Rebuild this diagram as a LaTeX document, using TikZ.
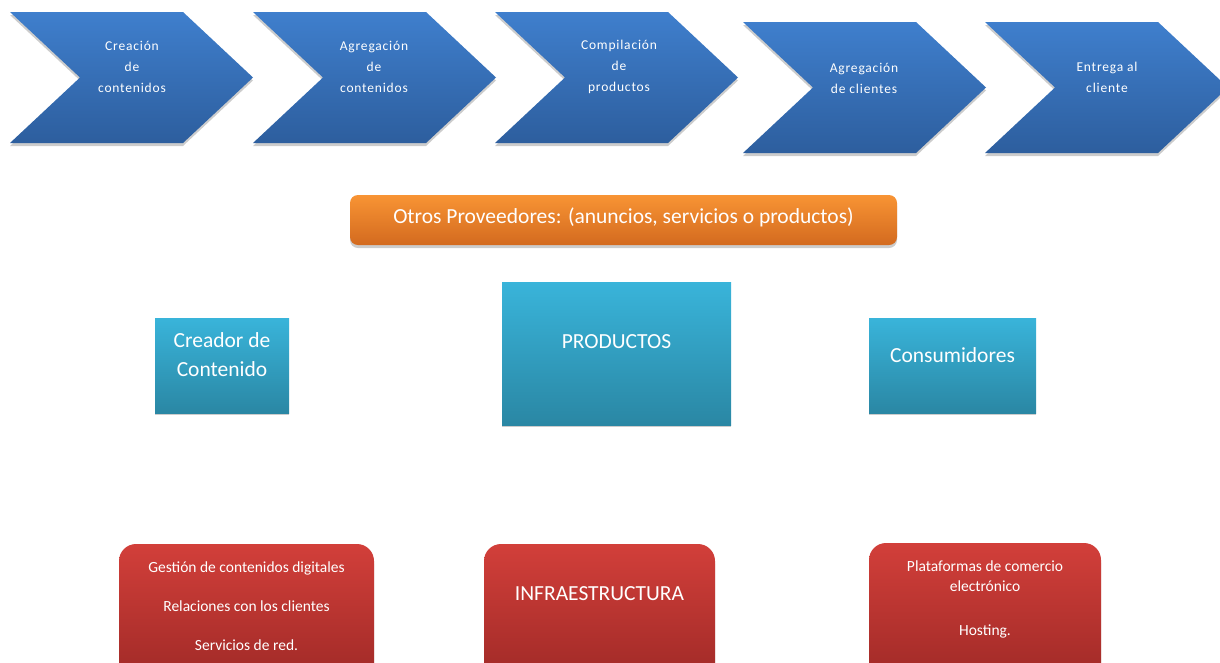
\documentclass[tikz,border=0pt]{standalone}
\usepackage{fontspec}
\setmainfont{Carlito}
\usetikzlibrary{shadows}
\definecolor{chevtop}{HTML}{3F7FCD}
\definecolor{chevbot}{HTML}{2D5E9E}
\definecolor{orgtop}{HTML}{F89434}
\definecolor{orgbot}{HTML}{D36A1F}
\definecolor{cyantop}{HTML}{39B4DA}
\definecolor{cyanbot}{HTML}{2A87A4}
\definecolor{redtop}{HTML}{D23F3A}
\definecolor{redbot}{HTML}{A02A27}
\tikzset{
  chevron/.style={top color=chevtop, bottom color=chevbot, draw=none,
    drop shadow={shadow xshift=0pt, shadow yshift=-3pt, opacity=0.2, fill=black}},
  chevtext/.style={text=white, align=center, font=\fontsize{13.5}{21}\selectfont\addfontfeatures{LetterSpace=6}},
  orangebox/.style={top color=orgtop, bottom color=orgbot, rounded corners=8pt, draw=none,
    drop shadow={shadow xshift=0pt, shadow yshift=-3pt, opacity=0.2, fill=black}},
  cyanbox/.style={top color=cyantop, bottom color=cyanbot, draw=none,
    drop shadow={shadow xshift=0pt, shadow yshift=-2pt, opacity=0.2, fill=black}},
  redbox/.style={top color=redtop, bottom color=redbot, rounded corners=17pt, draw=none,
    drop shadow={shadow xshift=0pt, shadow yshift=-3pt, opacity=0.2, fill=black}},
  bigtext/.style={text=white, align=center, font=\fontsize{21.5}{29}\selectfont},
  smalltext/.style={text=white, align=center, font=\fontsize{15.5}{20}\selectfont},
}
\begin{document}
\begin{tikzpicture}[x=1pt, y=-1pt]
  \useasboundingbox (0,0) rectangle (1220,662);
  \clip (0,0) rectangle (1220,662);

  % process chevrons: left x, top y, bottom y
  \foreach \n/\xa/\ya/\yb in {c1/10/12/143, c2/253/12/143, c3/495/12/143, c4/743/22/153, c5/985/22/153}{
    \path[chevron] (\xa,\ya) -- (\xa+173,\ya) -- (\xa+243,{(\ya+\yb)/2}) -- (\xa+173,\yb)
      -- (\xa,\yb) -- (\xa+70,{(\ya+\yb)/2}) -- cycle;
  }
  \node[chevtext] (t1) at (132,67) {Creación\\de\\contenidos};
  \node[chevtext] (t2) at (374,67) {Agregación\\de\\contenidos};
  \node[chevtext] (t3) at (619,67) {Compilación\\de\\productos};
  \node[chevtext] (t4) at (864,78) {Agregación\\de clientes};
  \node[chevtext] (t5) at (1107,77) {Entrega al\\cliente};

  % other providers
  \path[orangebox] (350,195) rectangle (897,245);
  \node[text=white, font=\fontsize{21.5}{24}\selectfont] (prov) at (623.5,217)
    {Otros Proveedores: (anuncios, servicios o productos)};

  % main actors
  \path[cyanbox] (155,318) rectangle (289,413);
  \node[bigtext] (creador) at (222,355) {Creador de\\Contenido};
  \path[cyanbox] (502,282) rectangle (731,425);
  \node[bigtext] (prod) at (616.5,342) {PRODUCTOS};
  \path[cyanbox] (869,318) rectangle (1036,413);
  \node[bigtext] (cons) at (952.5,355) {Consumidores};

  % supporting activities
  \path[redbox] (119,544) rectangle (374,680);
  \node[smalltext, font=\fontsize{15.5}{39}\selectfont] (gest) at (246.5,606)
    {Gestión de contenidos digitales\\Relaciones con los clientes\\Servicios de red.};
  \path[redbox] (484,544) rectangle (715,680);
  \node[bigtext] (infra) at (599.5,594) {INFRAESTRUCTURA};
  \path[redbox] (869,543) rectangle (1101,680);
  \node[smalltext] (plat) at (985,576) {Plataformas de comercio\\electrónico};
  \node[smalltext] (host) at (985,631) {Hosting.};
\end{tikzpicture}
\end{document}
